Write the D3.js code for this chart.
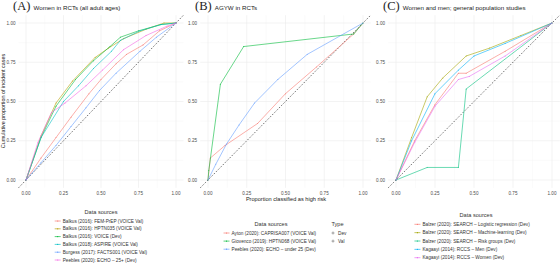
<!DOCTYPE html>
<html>
<head>
<script src="https://d3js.org/d3.v7.min.js"></script>
<style>
  body { margin: 0; background: #fff; }
  text { font-family: "Liberation Sans", Arial, sans-serif; }
</style>
</head>
<body>
<script>
// ---- data ----
const ticks = [0, 0.25, 0.5, 0.75, 1];
const tickLabels = ["0.00", "0.25", "0.50", "0.75", "1.00"];

// panel A: women in RCTs
const sourcesA = ["Balkus (2016): FEM-PrEP (VOICE Val)", "Balkus (2016): HPTN035 (VOICE Val)",
  "Balkus (2016): VOICE (Dev)", "Balkus (2018): ASPIRE (VOICE Val)",
  "Burgess (2017): FACTS001 (VOICE Val)", "Peebles (2020): ECHO \u2013 25+ (Dev)"];
const typeA = ["Val", "Val", "Dev", "Val", "Val", "Dev"];
const femPrep = [[0,0],[0.1,0.14],[0.2,0.27],[0.3,0.4],[0.42,0.55],[0.5,0.64],[0.6,0.74],[0.67,0.8],[0.78,0.86],[0.89,0.95],[1,1]];
const hptn035 = [[0,0],[0.1,0.28],[0.2,0.49],[0.31,0.63],[0.46,0.78],[0.55,0.84],[0.65,0.9],[0.8,0.96],[0.92,1],[1,1]];
const voiceDev = [[0,0],[0.1,0.27],[0.2,0.47],[0.33,0.64],[0.45,0.76],[0.56,0.85],[0.63,0.91],[0.75,0.95],[0.9,0.99],[1,1]];
const aspire = [[0,0],[0.1,0.27],[0.25,0.5],[0.35,0.6],[0.45,0.71],[0.57,0.82],[0.63,0.89],[0.76,0.95],[0.9,0.99],[1,1]];
const facts001 = [[0,0],[0.1,0.11],[0.2,0.22],[0.3,0.34],[0.4,0.46],[0.49,0.57],[0.6,0.68],[0.76,0.82],[0.87,0.91],[1,1]];
const echo25 = [[0,0],[0.08,0.24],[0.17,0.43],[0.26,0.49],[0.4,0.6],[0.51,0.7],[0.65,0.83],[0.8,0.92],[0.94,0.98],[1,1]];

// panel B: AGYW in RCTs
const sourcesB = ["Ayton (2020): CAPRISA007 (VOICE Val)", "Giovenco (2019): HPTN068 (VOICE Val)",
  "Peebles (2020): ECHO \u2013 under 25 (Dev)"];
const typeB = ["Val", "Val", "Dev"];
const caprisa = [[0,0],[0.015,0.14],[0.11,0.22],[0.32,0.36],[0.5,0.55],[0.7,0.72],[0.94,0.93],[1,1]];
const hptn068 = [[0,0],[0.005,0.06],[0.08,0.61],[0.23,0.85],[0.94,0.93],[1,1]];
const echoU25 = [[0,0],[0.05,0.1],[0.12,0.23],[0.2,0.35],[0.3,0.49],[0.45,0.64],[0.64,0.8],[1,1]];

// panel C: general population
const sourcesC = ["Balzer (2020): SEARCH \u2013 Logistic regression (Dev)", "Balzer (2020): SEARCH \u2013 Machine-learning (Dev)",
  "Balzer (2020): SEARCH \u2013 Risk groups (Dev)", "Kagaayi (2014): RCCS \u2013 Men (Dev)",
  "Kagaayi (2014): RCCS \u2013 Women (Dev)"];
const typeC = ["Dev", "Dev", "Dev", "Dev", "Dev"];
const searchLR = [[0,0],[0.12,0.25],[0.25,0.48],[0.4,0.68],[0.45,0.68],[0.7,0.82],[1,1]];
const searchML = [[0,0],[0.1,0.27],[0.2,0.53],[0.3,0.65],[0.45,0.79],[0.6,0.84],[0.8,0.92],[1,1]];
const searchRG = [[0,0],[0.2,0.08],[0.4,0.08],[0.45,0.58],[1,1]];
const rccsMen = [[0,0],[0.1,0.25],[0.25,0.55],[0.4,0.7],[0.5,0.79],[0.7,0.87],[1,1]];
const rccsWomen = [[0,0],[0.12,0.24],[0.25,0.47],[0.4,0.64],[0.47,0.66],[0.7,0.79],[1,1]];

const hue3 = ["#F8766D", "#00BA38", "#619CFF"];
const hue5 = ["#F8766D", "#A3A500", "#00BF7D", "#00B0F6", "#E76BF3"];
const hue6 = ["#F8766D", "#B79F00", "#00BA38", "#00BFC4", "#619CFF", "#F564E3"];

const panels = [
  { tag: "(A)", title: "Women in RCTs (all adult ages)", x0: 26, x1: 176, lab: 15.5,
    names: sourcesA, types: typeA, series: [femPrep, hptn035, voiceDev, aspire, facts001, echo25], colors: hue6,
    leg: { cx: 101, ty: 212, y0: 221, dy: 7.8 } },
  { tag: "(B)", title: "AGYW in RCTs", x0: 208, x1: 363, lab: 197,
    names: sourcesB, types: typeB, series: [caprisa, hptn068, echoU25], colors: hue3,
    leg: { cx: 271, ty: 224, y0: 233, dy: 8.1 } },
  { tag: "(C)", title: "Women and men; general population studies", x0: 396, x1: 552, lab: 385,
    names: sourcesC, types: typeC, series: [searchLR, searchML, searchRG, rccsMen, rccsWomen], colors: hue5,
    leg: { cx: 476, ty: 215, y0: 224.3, dy: 8.35 } }
];

const W = 560, H = 265;
const svg = d3.select("body").append("svg").attr("width", W).attr("height", H);
svg.append("rect").attr("width", W).attr("height", H).attr("fill", "#fff");

const y = d3.scaleLinear().domain([0, 1]).range([180, 23]);
const yDom = [-0.05, 1.05];

panels.forEach(p => {
  const x = d3.scaleLinear().domain([0, 1]).range([p.x0, p.x1]);
  const g = svg.append("g");

  // grid
  const minor = [0.125, 0.375, 0.625, 0.875];
  g.selectAll(".mx").data(minor).join("line")
    .attr("x1", d => x(d)).attr("x2", d => x(d)).attr("y1", y(yDom[0])).attr("y2", y(yDom[1]))
    .attr("stroke", "#F4F4F4").attr("stroke-width", 0.35);
  g.selectAll(".my").data(minor).join("line")
    .attr("y1", d => y(d)).attr("y2", d => y(d)).attr("x1", x(yDom[0])).attr("x2", x(yDom[1]))
    .attr("stroke", "#F4F4F4").attr("stroke-width", 0.35);
  g.selectAll(".gx").data(ticks).join("line")
    .attr("x1", d => x(d)).attr("x2", d => x(d)).attr("y1", y(yDom[0])).attr("y2", y(yDom[1]))
    .attr("stroke", "#EBEBEB").attr("stroke-width", 0.6);
  g.selectAll(".gy").data(ticks).join("line")
    .attr("y1", d => y(d)).attr("y2", d => y(d)).attr("x1", x(yDom[0])).attr("x2", x(yDom[1]))
    .attr("stroke", "#EBEBEB").attr("stroke-width", 0.6);

  // tick labels
  g.selectAll(".ty").data(ticks).join("text")
    .attr("x", p.lab).attr("y", d => y(d) + 1.7).attr("text-anchor", "end")
    .attr("font-size", 4.6).attr("fill", "#4D4D4D").text((d, i) => tickLabels[i]);
  g.selectAll(".tx").data(ticks).join("text")
    .attr("x", d => x(d)).attr("y", 194.8).attr("text-anchor", "middle")
    .attr("font-size", 4.6).attr("fill", "#4D4D4D").text((d, i) => tickLabels[i]);

  // diagonal reference
  g.append("line")
    .attr("x1", x(yDom[0])).attr("y1", y(yDom[0])).attr("x2", x(yDom[1])).attr("y2", y(yDom[1]))
    .attr("stroke", "#444").attr("stroke-width", 0.75).attr("stroke-dasharray", "1.6,1.6");

  // curves
  const line = d3.line().x(d => x(d[0])).y(d => y(d[1]));
  p.series.forEach((s, i) => {
    g.append("path").attr("d", line(s)).attr("fill", "none")
      .attr("stroke", p.colors[i]).attr("stroke-width", 0.65).attr("opacity", 0.9);
    g.selectAll(null).data(s).join("circle")
      .attr("cx", d => x(d[0])).attr("cy", d => y(d[1])).attr("r", 0.5)
      .attr("fill", p.colors[i]).attr("opacity", 0.8);
  });

  // title
  const t = g.append("text").attr("x", p.x0 - 13).attr("y", 10);
  t.append("tspan").attr("font-family", "Liberation Serif, serif").attr("font-size", 12.5)
    .attr("fill", "#222").text(p.tag + " ");
  t.append("tspan").attr("font-size", 6.2).attr("fill", "#222").attr("dy", -0.5).text(p.title);

  // legend
  const L = g.append("g");
  const widths = p.names.map(n => n.length * 2.35);
  const lw = 8 + d3.max(widths);
  const lx = p.leg.cx - lw / 2;
  L.append("text").attr("x", p.leg.cx).attr("y", p.leg.ty + 2).attr("text-anchor", "middle")
    .attr("font-size", 5.6).attr("fill", "#333").text("Data sources");
  p.names.forEach((n, i) => {
    const yy = p.leg.y0 + i * p.leg.dy;
    L.append("line").attr("x1", lx).attr("x2", lx + 6).attr("y1", yy).attr("y2", yy)
      .attr("stroke", p.colors[i]).attr("stroke-width", 0.65);
    L.append("circle").attr("cx", lx + 3).attr("cy", yy).attr("r", 0.6).attr("fill", p.colors[i]);
    L.append("text").attr("x", lx + 8).attr("y", yy + 1.6).attr("font-size", 4.7)
      .attr("fill", "#333").text(n);
  });
});

// "Type" legend in panel B
const typeNames = ["Dev", "Val"];
const tg = svg.append("g");
tg.append("text").attr("x", 337.5).attr("y", 226).attr("text-anchor", "middle")
  .attr("font-size", 5.6).attr("fill", "#333").text("Type");
typeNames.forEach((n, i) => {
  const yy = 233 + i * 8.1;
  tg.append("line").attr("x1", 331.5).attr("x2", 334.5).attr("y1", yy).attr("y2", yy).attr("stroke", "#555").attr("stroke-width", 0.5);
  tg.append("line").attr("x1", 333).attr("x2", 333).attr("y1", yy - 1.5).attr("y2", yy + 1.5).attr("stroke", "#555").attr("stroke-width", 0.5);
  tg.append("text").attr("x", 338).attr("y", yy + 1.6).attr("font-size", 4.7).attr("fill", "#333").text(n);
});

// axis titles
svg.append("text").attr("transform", "translate(5,101) rotate(-90)").attr("text-anchor", "middle")
  .attr("font-size", 5.4).attr("fill", "#222").text("Cumulative proportion of incident cases");
svg.append("text").attr("x", 286).attr("y", 201).attr("text-anchor", "middle")
  .attr("font-size", 5.6).attr("fill", "#222").text("Proportion classified as high risk");
</script>
</body>
</html>
